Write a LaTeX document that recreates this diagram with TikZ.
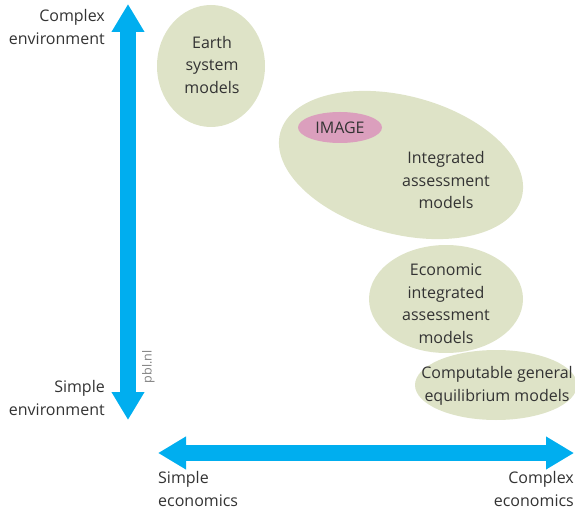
\documentclass[tikz,border=0pt]{standalone}
\usepackage{fontspec}
\setmainfont{Open Sans}
\usepackage{xcolor}
\usepackage{tikz}
\usetikzlibrary{arrows.meta}
\usetikzlibrary{shapes.geometric}
\definecolor{pblblue}{HTML}{00AEEF}
\definecolor{modelgreen}{HTML}{DEE3C7}
\definecolor{imagepink}{HTML}{DB9FBD}
\definecolor{textgrey}{HTML}{333333}
\tikzset{
    tnode/.style = {align=center, inner sep=0pt, text=textgrey, font=\fontsize{16}{22.5}\selectfont},
    model_node/.style = {ellipse, fill=modelgreen, draw=none, inner sep=0pt},
    image_node/.style = {tnode, ellipse, fill=imagepink, minimum width=84pt, minimum height=31pt},
    axis_arrow/.style = {pblblue, line width=16pt, {Triangle[width=31pt,length=28pt]}-{Triangle[width=31pt,length=28pt]}}
}

\begin{document}
\begin{tikzpicture}[x=1pt, y=-1pt]
    \useasboundingbox (0,0) rectangle (575,513);

    % axes
    \coordinate (env_low) at (128,420);
    \coordinate (env_high) at (128,4);
    \coordinate (eco_low) at (158,453);
    \coordinate (eco_high) at (574,453);
    \draw [axis_arrow] (env_low) -- (env_high);
    \draw [axis_arrow] (eco_low) -- (eco_high);

    % model families
    \node [model_node, minimum width=108pt, minimum height=122pt] (esm) at (211,66) {};
    \node [model_node, rotate=-15, minimum width=250pt, minimum height=138pt] (iam) at (401,165) {};
    \node [model_node, minimum width=154pt, minimum height=108pt] (eiam) at (446,299) {};
    \node [model_node, minimum width=162pt, minimum height=70pt] (cge) at (496,385) {};
    \node [image_node] (image) at (340,127.5) {IMAGE};

    \node [tnode] (esm_text) at (212,65) {Earth\\system\\models};
    \node [tnode] (iam_text) at (446,180) {Integrated\\assessment\\models};
    \node [tnode] (eiam_text) at (446,303.5) {Economic\\integrated\\assessment\\models};
    \node [tnode] (cge_text) at (497,386) {Computable general\\equilibrium models};

    % axis labels
    \node [tnode, align=right, anchor=east] (env_high_text) at (105,27) {Complex\\environment};
    \node [tnode, align=right, anchor=east] (env_low_text) at (105,398) {Simple\\environment};
    \node [tnode, align=left, anchor=west] (eco_low_text) at (158,489) {Simple\\economics};
    \node [tnode, align=right, anchor=east] (eco_high_text) at (574,489) {Complex\\economics};

    \node [rotate=90, inner sep=0pt, text=gray, font=\fontsize{12.5}{14}\selectfont] (credit) at (148.5,367) {pbl.nl};
\end{tikzpicture}
\end{document}
